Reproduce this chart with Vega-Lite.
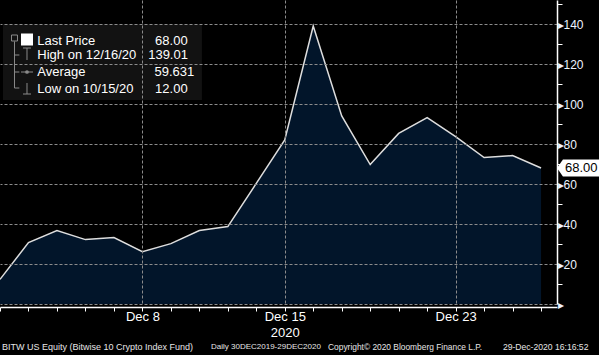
{
  "$schema": "https://vega.github.io/schema/vega-lite/v6.json",
  "width": 557,
  "height": 304,
  "autosize": "none",
  "padding": {"left": 0, "top": 0, "right": 42, "bottom": 51},
  "background": "#000000",
  "config": {"view": {"stroke": null}, "font": "Liberation Sans"},
  "resolve": {"axis": {"x": "independent", "y": "independent"}},
  "data": {"values": [
    {"i": 0, "date": "2020-12-01", "value": 12.3},
    {"i": 1, "date": "2020-12-02", "value": 30.7},
    {"i": 2, "date": "2020-12-03", "value": 36.7},
    {"i": 3, "date": "2020-12-04", "value": 32.2},
    {"i": 4, "date": "2020-12-07", "value": 33.2},
    {"i": 5, "date": "2020-12-08", "value": 26.2},
    {"i": 6, "date": "2020-12-09", "value": 30.2},
    {"i": 7, "date": "2020-12-10", "value": 36.7},
    {"i": 8, "date": "2020-12-11", "value": 38.7},
    {"i": 9, "date": "2020-12-14", "value": 60.3},
    {"i": 10, "date": "2020-12-15", "value": 82.0},
    {"i": 11, "date": "2020-12-16", "value": 139.01},
    {"i": 12, "date": "2020-12-17", "value": 94.0},
    {"i": 13, "date": "2020-12-18", "value": 69.7},
    {"i": 14, "date": "2020-12-21", "value": 85.3},
    {"i": 15, "date": "2020-12-22", "value": 93.2},
    {"i": 16, "date": "2020-12-23", "value": 83.7},
    {"i": 17, "date": "2020-12-24", "value": 73.2},
    {"i": 18, "date": "2020-12-28", "value": 74.2},
    {"i": 19, "date": "2020-12-29", "value": 68.0}
  ]},
  "layer": [
    {
      "mark": {"type": "area", "color": "#031e3c", "line": {"color": "#dedede", "strokeWidth": 1.5}},
      "encoding": {
        "x": {"field": "i", "type": "quantitative",
          "scale": {"domain": [0, 19.56], "nice": false, "zero": false},
          "axis": {"orient": "bottom", "title": null, "values": [0,1,2,3,4,5,6,7,8,9,10,11,12,13,14,15,16,17,18,19],
            "offset": 3, "domainColor": "#ffffff", "domainWidth": 1.5, "tickColor": "#ffffff", "tickSize": 4, "tickWidth": 1,
            "labelExpr": "datum.value == 5 ? 'Dec 8' : datum.value == 10 ? ['Dec 15', '2020'] : datum.value == 16 ? 'Dec 23' : ''",
            "labelColor": "#ffffff", "labelFont": "Liberation Sans", "labelFontSize": 13, "labelPadding": -1, "labelLineHeight": 16,
            "labelOverlap": false, "labelBound": false, "labelFlush": false,
            "grid": true, "gridColor": "#8c8c8c", "gridDash": [3, 2], "gridWidth": 1,
            "gridOpacity": {"condition": {"test": "datum.value == 5 || datum.value == 10 || datum.value == 16", "value": 1}, "value": 0},
            "zindex": 1}},
        "y": {"field": "value", "type": "quantitative",
          "scale": {"domain": [0, 152], "nice": false, "zero": true},
          "axis": {"orient": "right", "title": null, "values": [0,10,20,30,40,50,60,70,80,90,100,110,120,130,140,150],
            "domainColor": "#ffffff", "domainWidth": 1.5, "tickColor": "#ffffff", "tickSize": 5,
            "tickOpacity": {"condition": {"test": "datum.value % 20 == 0", "value": 0}, "value": 1},
            "labelExpr": "datum.value % 20 == 0 ? ('▸' + (datum.value > 0 ? datum.label : '')) : ''",
            "labelColor": "#eef3ff", "labelFont": "Liberation Sans", "labelFontSize": 12, "labelPadding": -5,
            "labelOverlap": false, "labelBound": false,
            "grid": true, "gridColor": "#8c8c8c", "gridDash": [3, 2], "gridWidth": 1,
            "gridOpacity": {"condition": {"test": "datum.value % 20 == 0", "value": 1}, "value": 0},
            "zindex": 1}}
      }
    },
    {
      "transform": [{"filter": "datum.i == 19"}],
      "mark": {"type": "point", "shape": "M0,0L0.7,-1L5.5,-1L5.5,1L0.7,1Z", "size": 289, "filled": true, "color": "#ffffff", "opacity": 1},
      "encoding": {"x": {"datum": 19.56, "axis": null}, "y": {"field": "value", "type": "quantitative", "axis": null}}
    },
    {
      "transform": [{"filter": "datum.i == 19"}],
      "mark": {"type": "text", "align": "left", "baseline": "middle", "dx": 8, "fontSize": 13, "color": "#000000", "font": "Liberation Sans"},
      "encoding": {"x": {"datum": 19.56, "axis": null}, "y": {"field": "value", "type": "quantitative", "axis": null},
        "text": {"field": "value", "type": "quantitative", "format": ".2f"}}
    },
    {
      "data": {"values": [{}]},
      "mark": {"type": "rect", "color": "#121212"},
      "encoding": {"x": {"datum": 0.105, "axis": null}, "x2": {"datum": 7.09}, "y": {"datum": 140, "axis": null}, "y2": {"datum": 102}}
    },
    {
      "data": {"values": [{}]},
      "mark": {"type": "point", "shape": "square", "size": 144, "filled": true, "color": "#ffffff", "opacity": 1},
      "encoding": {"x": {"datum": 0.948, "axis": null}, "y": {"datum": 132.25, "axis": null}}
    },
    {
      "data": {"values": [{}]},
      "mark": {"type": "point", "shape": "square", "size": 36, "filled": false, "color": "#8a8a8a", "strokeWidth": 1, "opacity": 1},
      "encoding": {"x": {"datum": 0.509, "axis": null}, "y": {"datum": 133, "axis": null}}
    },
    {
      "data": {"values": [{}]},
      "mark": {"type": "rule", "color": "#8a8a8a", "strokeWidth": 1},
      "encoding": {"x": {"datum": 0.509, "axis": null}, "y": {"datum": 131.3, "axis": null}, "y2": {"datum": 108}}
    },
    {
      "data": {"values": [{}]},
      "mark": {"type": "rule", "color": "#8a8a8a", "strokeWidth": 1},
      "encoding": {"x": {"datum": 0.509, "axis": null}, "x2": {"datum": 0.68}, "y": {"datum": 124.5, "axis": null}}
    },
    {
      "data": {"values": [{}]},
      "mark": {"type": "rule", "color": "#8a8a8a", "strokeWidth": 1},
      "encoding": {"x": {"datum": 0.509, "axis": null}, "x2": {"datum": 0.68}, "y": {"datum": 116, "axis": null}}
    },
    {
      "data": {"values": [{}]},
      "mark": {"type": "rule", "color": "#8a8a8a", "strokeWidth": 1},
      "encoding": {"x": {"datum": 0.509, "axis": null}, "x2": {"datum": 0.68}, "y": {"datum": 108, "axis": null}}
    },
    {
      "data": {"values": [{}]},
      "mark": {"type": "rule", "color": "#8a8a8a", "strokeWidth": 1},
      "encoding": {"x": {"datum": 0.808, "axis": null}, "x2": {"datum": 1.089}, "y": {"datum": 128, "axis": null}}
    },
    {
      "data": {"values": [{}]},
      "mark": {"type": "rule", "color": "#8a8a8a", "strokeWidth": 1},
      "encoding": {"x": {"datum": 0.948, "axis": null}, "y": {"datum": 128, "axis": null}, "y2": {"datum": 122}}
    },
    {
      "data": {"values": [{}]},
      "mark": {"type": "rule", "color": "#8a8a8a", "strokeWidth": 1},
      "encoding": {"x": {"datum": 0.737, "axis": null}, "x2": {"datum": 1.159}, "y": {"datum": 116, "axis": null}}
    },
    {
      "data": {"values": [{}]},
      "mark": {"type": "point", "shape": "circle", "size": 14, "filled": true, "color": "#8a8a8a", "opacity": 1},
      "encoding": {"x": {"datum": 0.948, "axis": null}, "y": {"datum": 116, "axis": null}}
    },
    {
      "data": {"values": [{}]},
      "mark": {"type": "rule", "color": "#8a8a8a", "strokeWidth": 1},
      "encoding": {"x": {"datum": 0.948, "axis": null}, "y": {"datum": 110.5, "axis": null}, "y2": {"datum": 105}}
    },
    {
      "data": {"values": [{}]},
      "mark": {"type": "rule", "color": "#8a8a8a", "strokeWidth": 1},
      "encoding": {"x": {"datum": 0.808, "axis": null}, "x2": {"datum": 1.089}, "y": {"datum": 105, "axis": null}}
    },
    {
      "data": {"values": [{}]},
      "mark": {"type": "text", "text": "Last Price", "align": "left", "baseline": "middle", "fontSize": 13, "color": "#ffffff", "font": "Liberation Sans"},
      "encoding": {"x": {"datum": 1.31, "axis": null}, "y": {"datum": 131.65, "axis": null}}
    },
    {
      "data": {"values": [{}]},
      "mark": {"type": "text", "text": "High on 12/16/20", "align": "left", "baseline": "middle", "fontSize": 13, "color": "#ffffff", "font": "Liberation Sans"},
      "encoding": {"x": {"datum": 1.31, "axis": null}, "y": {"datum": 124.5, "axis": null}}
    },
    {
      "data": {"values": [{}]},
      "mark": {"type": "text", "text": "Average", "align": "left", "baseline": "middle", "fontSize": 13, "color": "#ffffff", "font": "Liberation Sans"},
      "encoding": {"x": {"datum": 1.31, "axis": null}, "y": {"datum": 115.85, "axis": null}}
    },
    {
      "data": {"values": [{}]},
      "mark": {"type": "text", "text": "Low on 10/15/20", "align": "left", "baseline": "middle", "fontSize": 13, "color": "#ffffff", "font": "Liberation Sans"},
      "encoding": {"x": {"datum": 1.31, "axis": null}, "y": {"datum": 107.5, "axis": null}}
    },
    {
      "data": {"values": [{}]},
      "mark": {"type": "text", "text": "68.00", "align": "right", "baseline": "middle", "fontSize": 13, "color": "#ffffff", "font": "Liberation Sans"},
      "encoding": {"x": {"datum": 6.59, "axis": null}, "y": {"datum": 131.65, "axis": null}}
    },
    {
      "data": {"values": [{}]},
      "mark": {"type": "text", "text": "139.01", "align": "right", "baseline": "middle", "fontSize": 13, "color": "#ffffff", "font": "Liberation Sans"},
      "encoding": {"x": {"datum": 6.6, "axis": null}, "y": {"datum": 124.5, "axis": null}}
    },
    {
      "data": {"values": [{}]},
      "mark": {"type": "text", "text": "59.631", "align": "right", "baseline": "middle", "fontSize": 13, "color": "#ffffff", "font": "Liberation Sans"},
      "encoding": {"x": {"datum": 6.82, "axis": null}, "y": {"datum": 115.85, "axis": null}}
    },
    {
      "data": {"values": [{}]},
      "mark": {"type": "text", "text": "12.00", "align": "right", "baseline": "middle", "fontSize": 13, "color": "#ffffff", "font": "Liberation Sans"},
      "encoding": {"x": {"datum": 6.59, "axis": null}, "y": {"datum": 107.5, "axis": null}}
    },
    {
      "data": {"values": [{}]},
      "mark": {"type": "text", "text": "BITW US Equity (Bitwise 10 Crypto Index Fund)", "align": "left", "baseline": "middle", "fontSize": 9, "color": "#e6e6e6", "font": "Liberation Sans"},
      "encoding": {"x": {"datum": 0.07, "axis": null}, "y": {"datum": -21.5, "axis": null}}
    },
    {
      "data": {"values": [{}]},
      "mark": {"type": "text", "text": "Daily 30DEC2019-29DEC2020", "align": "left", "baseline": "middle", "fontSize": 8, "color": "#e6e6e6", "font": "Liberation Sans"},
      "encoding": {"x": {"datum": 7.41, "axis": null}, "y": {"datum": -21.5, "axis": null}}
    },
    {
      "data": {"values": [{}]},
      "mark": {"type": "text", "text": "Copyright© 2020 Bloomberg Finance L.P.", "align": "left", "baseline": "middle", "fontSize": 8.4, "color": "#e6e6e6", "font": "Liberation Sans"},
      "encoding": {"x": {"datum": 11.52, "axis": null}, "y": {"datum": -21.5, "axis": null}}
    },
    {
      "data": {"values": [{}]},
      "mark": {"type": "text", "text": "29-Dec-2020 16:16:52", "align": "left", "baseline": "middle", "fontSize": 8.6, "color": "#e6e6e6", "font": "Liberation Sans"},
      "encoding": {"x": {"datum": 17.66, "axis": null}, "y": {"datum": -21.5, "axis": null}}
    }
  ]
}
